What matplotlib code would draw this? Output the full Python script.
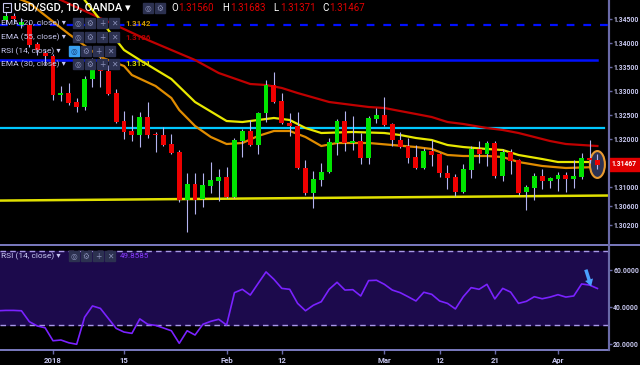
import numpy as np
import matplotlib.pyplot as plt
from matplotlib.patches import Rectangle, Ellipse

# USD/SGD daily candles, bar 0 = 2 Jan 2018 (bars -7..-1 are late Dec 2017)
bar_idx = list(range(-7, 70))

opens = [1.34729, 1.34479, 1.34563, 1.34375, 1.34375, 1.33979, 1.33792,
         1.33729, 1.32917, 1.32958, 1.32771, 1.32667, 1.33250, 1.33521, 1.33417, 1.32958, 1.32375,
         1.32167, 1.32083, 1.32458, 1.32104, 1.32083, 1.31896, 1.31729, 1.30729, 1.31063, 1.30750,
         1.31021, 1.31125, 1.31208, 1.30792, 1.31958, 1.32167, 1.31875, 1.32542, 1.33125, 1.32792,
         1.32333, 1.32271, 1.31396, 1.30875, 1.31146, 1.31313, 1.31917, 1.32375, 1.31917, 1.31958,
         1.31604, 1.32417, 1.32500, 1.32313, 1.31979, 1.31854, 1.31625, 1.31396, 1.31750, 1.31688,
         1.31292, 1.31208, 1.30896, 1.31354, 1.31792, 1.31688, 1.31917, 1.31229, 1.31729, 1.31563,
         1.30896, 1.30979, 1.31229, 1.31125, 1.31167, 1.31250, 1.31167, 1.31208, 1.31604, 1.31560]
highs = [1.34792, 1.34646, 1.34625, 1.34521, 1.34438, 1.34021, 1.33854,
         1.33771, 1.33104, 1.33167, 1.32854, 1.33313, 1.33688, 1.33708, 1.33542, 1.33042, 1.32583,
         1.32500, 1.32563, 1.32771, 1.32146, 1.32250, 1.32104, 1.31771, 1.31292, 1.31292, 1.31292,
         1.31521, 1.31375, 1.31417, 1.32021, 1.32208, 1.32396, 1.32563, 1.33229, 1.33396, 1.32958,
         1.32542, 1.32563, 1.31563, 1.31333, 1.31500, 1.32021, 1.32417, 1.32583, 1.32479, 1.32125,
         1.32479, 1.32646, 1.32875, 1.32333, 1.32146, 1.32021, 1.31875, 1.31813, 1.31979, 1.31708,
         1.31458, 1.31271, 1.31479, 1.31854, 1.31958, 1.31958, 1.31958, 1.31792, 1.31792, 1.31583,
         1.31042, 1.31292, 1.31375, 1.31208, 1.31313, 1.31313, 1.31563, 1.31708, 1.31979, 1.31683]
lows = [1.34438, 1.34396, 1.34417, 1.34313, 1.33917, 1.33750, 1.33542,
        1.32813, 1.32792, 1.32708, 1.32563, 1.32604, 1.33083, 1.33083, 1.32917, 1.32333, 1.32000,
        1.31958, 1.31833, 1.32021, 1.31729, 1.31854, 1.31688, 1.30688, 1.30063, 1.30438, 1.30583,
        1.30875, 1.30708, 1.30771, 1.30771, 1.31625, 1.31854, 1.31688, 1.32354, 1.32750, 1.32313,
        1.32063, 1.31375, 1.30833, 1.30563, 1.31021, 1.31292, 1.31667, 1.31750, 1.31771, 1.31479,
        1.31479, 1.32333, 1.32271, 1.31854, 1.31813, 1.31500, 1.31375, 1.31375, 1.31438, 1.31208,
        1.30958, 1.30813, 1.30875, 1.31188, 1.31500, 1.31438, 1.31188, 1.31125, 1.31271, 1.30833,
        1.30521, 1.30729, 1.30958, 1.30979, 1.30917, 1.30896, 1.30979, 1.31167, 1.31500, 1.31371]
closes = [1.34479, 1.34563, 1.34500, 1.34438, 1.33958, 1.33854, 1.33729,
          1.32917, 1.32958, 1.32750, 1.32667, 1.33250, 1.33542, 1.33417, 1.32938, 1.32354, 1.32146,
          1.32083, 1.32458, 1.32083, 1.32083, 1.31875, 1.31708, 1.30729, 1.31063, 1.30729, 1.31042,
          1.31146, 1.31208, 1.30792, 1.31979, 1.32167, 1.31875, 1.32542, 1.33125, 1.32771, 1.32333,
          1.32271, 1.31396, 1.30875, 1.31167, 1.31313, 1.31938, 1.32375, 1.31917, 1.31958, 1.31604,
          1.32438, 1.32500, 1.32292, 1.31979, 1.31833, 1.31604, 1.31396, 1.31750, 1.31667, 1.31292,
          1.31188, 1.30896, 1.31375, 1.31792, 1.31688, 1.31917, 1.31229, 1.31729, 1.31542, 1.30875,
          1.31000, 1.31229, 1.31125, 1.31188, 1.31250, 1.31167, 1.31229, 1.31604, 1.31563, 1.31467]

rsi = [37.8, 38.0, 38.0, 37.8, 31.9, 29.6, 28.6,
       21.6, 22.0, 20.5, 19.7, 34.3, 40.4, 39.1, 33.7, 28.3, 26.3,
       25.6, 33.4, 30.5, 29.9, 28.5, 27.0, 20.2, 27.0, 24.7, 30.5,
       32.1, 33.2, 30.1, 47.6, 49.4, 46.3, 52.6, 58.8, 54.8, 49.9,
       49.4, 41.8, 37.8, 40.8, 42.7, 49.4, 53.2, 49.0, 49.2, 45.8,
       54.1, 54.3, 52.1, 49.0, 47.6, 45.4, 43.1, 47.8, 46.7, 43.1,
       41.8, 38.8, 45.4, 50.3, 49.4, 52.1, 44.2, 49.9, 47.9, 41.8,
       42.9, 45.4, 44.3, 45.2, 46.5, 45.2, 45.8, 52.3, 51.7, 49.86]

# moving averages at a few bars
ema55_idx = [-7, 1, 12, 18, 21, 25, 27, 29, 31, 35, 38, 40, 42, 44, 46, 48, 50, 52, 55, 57,
             59, 61, 63, 65, 67, 69]
ema55 = [1.35500, 1.34896, 1.34063, 1.33646, 1.33375, 1.33146, 1.33125, 1.33063, 1.32958,
         1.32771, 1.32708, 1.32667, 1.32646, 1.32583, 1.32521, 1.32458, 1.32354, 1.32313,
         1.32229, 1.32188, 1.32125, 1.32042, 1.31958, 1.31896, 1.31875, 1.31854]
ema30_idx = [2, 4, 9, 11, 15, 18, 22, 24, 26, 28, 30, 32, 34, 38, 42, 44, 46, 48, 50, 52,
             55, 57, 59, 62, 64, 69]
ema30 = [1.35400, 1.34896, 1.33854, 1.33646, 1.33250, 1.32771, 1.32375, 1.32354, 1.32396,
         1.32438, 1.32396, 1.32229, 1.32125, 1.32146, 1.32125, 1.32083, 1.32021, 1.31979,
         1.31875, 1.31833, 1.31792, 1.31771, 1.31667, 1.31583, 1.31521, 1.31521]
ema20_idx = [-7, -3, 2, 6, 9, 10, 13, 15, 16, 18, 20, 22, 24, 26, 28, 30, 32, 34, 36, 40,
             43, 46, 48, 50, 52, 55, 57, 59, 62, 65, 69]
ema20 = [1.35104, 1.34833, 1.34188, 1.33708, 1.33521, 1.33333, 1.33104, 1.32854, 1.32604,
         1.32271, 1.32042, 1.31896, 1.31917, 1.32063, 1.32167, 1.32167, 1.32042, 1.31854,
         1.31917, 1.31917, 1.31875, 1.31833, 1.31792, 1.31667, 1.31646, 1.31646, 1.31625,
         1.31521, 1.31438, 1.31396, 1.31417]

# drawn levels
level_dashed = 1.34375
level_blue = 1.33646
level_cyan = 1.32229
trend_x = [-7, 70.5]
trend_y = [1.30717, 1.30823]

price_ticks = [1.345, 1.340, 1.335, 1.330, 1.325, 1.320, 1.310, 1.306, 1.302]
rsi_ticks = [20, 40, 60]
date_pos = [0, 9, 22, 29, 42, 49, 56, 64]
date_labels = ['2018', '15', 'Feb', '12', 'Mar', '12', '21', 'Apr']

plt.rcParams['font.family'] = ['Roboto', 'DejaVu Sans']
TXT = '#c8c8f0'
AXC = '#6a6aa8'

fig = plt.figure(figsize=(6.4, 3.65), dpi=100, facecolor='black')
W, H = 640.0, 365.0

# price pane
ax = fig.add_axes([0, (H - 240) / H, 609 / W, 240 / H], facecolor='black')
x = np.array(bar_idx)
o, c = np.array(opens), np.array(closes)
up = c >= o
cols = np.where(up, '#00e400', '#ee0000')
ax.vlines(x, lows, highs, color='#b4b4f0', lw=0.8, zorder=4)
body = np.maximum(np.abs(c - o), 0.00008)
ax.bar(x, body, bottom=np.minimum(o, c), width=0.62, color=cols, zorder=4.5)

ax.plot(ema55_idx, ema55, color='#c00000', lw=1.6, zorder=3)
ax.plot(ema30_idx, ema30, color='#e8e800', lw=1.6, zorder=3)
ax.plot(ema20_idx, ema20, color='#e08c00', lw=1.6, zorder=3)

ax.axhline(level_dashed, color='#0010ff', lw=1.6, ls=(0, (3.5, 4)), zorder=2)
ax.plot([-7, 69], [level_blue, level_blue], color='#0010ff', lw=1.8, zorder=2)
ax.plot([-7, 69.8], [level_cyan, level_cyan], color='#00c8ff', lw=1.6, zorder=2)
ax.plot(trend_x, trend_y, color='#e0e000', lw=1.8, zorder=2)

ax.add_patch(Ellipse((69, 1.31469), 1.9, 0.0056, facecolor='#2c3252', edgecolor='#e89a30',
                     lw=1.5, zorder=3.5))

ax.set_xlim(-6.72, 70.47)
ax.set_ylim(1.29896, 1.34896)
ax.yaxis.tick_right()
ax.set_yticks(price_ticks)
ax.set_yticklabels(['%.5f' % p for p in price_ticks])
ax.tick_params(axis='y', colors=TXT, labelsize=4.9, length=2, width=1, pad=1, color=AXC)
ax.set_xticks([])
for s in ['top', 'left', 'bottom']:
    ax.spines[s].set_visible(False)
ax.spines['right'].set_color(AXC)
ax.spines['right'].set_linewidth(1.5)
for lab in ax.get_yticklabels():
    lab.set_fontweight('bold')

# RSI pane
rx = fig.add_axes([0, (H - 350) / H, 609 / W, 105 / H], facecolor='black')
rx.axhspan(30, 70, color='#1c0a4c', zorder=1)
rx.axhline(70, color='#a898e8', lw=1, ls=(0, (4, 3)), zorder=2)
rx.axhline(30, color='#a898e8', lw=1, ls=(0, (4, 3)), zorder=2)
rx.plot(bar_idx, rsi, color='#7a22ff', lw=1.2, zorder=3)
rx.set_xlim(-6.72, 70.47)
rx.set_ylim(16.6, 73.35)
rx.yaxis.tick_right()
rx.set_yticks(rsi_ticks)
rx.set_yticklabels(['%.4f' % v for v in rsi_ticks])
rx.set_xticks(date_pos)
rx.set_xticklabels(date_labels)
rx.tick_params(axis='y', colors=TXT, labelsize=4.9, length=2, width=1, pad=1, color=AXC)
rx.tick_params(axis='x', colors=TXT, labelsize=5.6, length=3, width=1, pad=2, color=AXC)
for lab in rx.get_yticklabels() + rx.get_xticklabels():
    lab.set_fontweight('bold')
for s in ['top', 'left']:
    rx.spines[s].set_visible(False)
rx.spines['right'].set_color(AXC)
rx.spines['right'].set_linewidth(1.5)
rx.spines['bottom'].set_color('#9090e0')
rx.spines['bottom'].set_linewidth(1.2)

# overlay in pixel coordinates for the TradingView header and legends
ov = fig.add_axes([0, 0, 1, 1], zorder=10)
ov.set_xlim(0, W)
ov.set_ylim(H, 0)
ov.axis('off')

ov.plot([0, W], [245, 245], color='#9090e0', lw=1.2)
ov.plot([609, 609], [0, 350], color=AXC, lw=1.5)

# last price tag
ov.add_patch(Rectangle((609, 158), 31, 13, color='#e00000'))
ov.text(612, 164.5, '1.31467', color='white', fontsize=4.9, fontweight='bold', va='center')


def icon(x0, y0, glyph, fc='#2c3150', gc='#8a90b8'):
    ov.add_patch(Rectangle((x0, y0 - 5), 10, 10, color=fc))
    ov.text(x0 + 5, y0 + 0.3, glyph, color=gc, fontsize=5.5, ha='center', va='center',
            family='DejaVu Sans')


ov.add_patch(Rectangle((2.5, 3), 8, 9, fill=False, edgecolor='#c8c8f0', lw=0.8))
ov.text(6.5, 7.3, '−', color='#e0e0ff', fontsize=6, ha='center', va='center')
ov.text(14, 8, 'USD/SGD, 1D, OANDA ▾', color='white', fontsize=8, fontweight='medium',
        va='center')
icon(143, 8, '◎')
icon(155, 8, '⚙')
for lx, lt, vx, vt in [(171, 'O', 178, '1.31560'), (222, 'H', 230, '1.31683'),
                       (273, 'L', 280, '1.31371'), (322, 'C', 329, '1.31467')]:
    ov.text(lx, 8, lt, color='white', fontsize=7, va='center')
    ov.text(vx, 8, vt, color='#e00000', fontsize=7, va='center')

rows = [(23, 'EMA (20, close) ▾', '1.3142', '#d09a00'),
        (37, 'EMA (55, close) ▾', '1.3186', '#b00000'),
        (51, 'RSI (14, close) ▾', None, None),
        (64, 'EMA (30, close) ▾', '1.3151', '#d8d800')]
for ry, label, val, vc in rows:
    ov.text(1, ry, label, color=TXT, fontsize=6, va='center')
    x0 = 69 if val is None else 73
    for k, g in enumerate(['◎', '⚙', '+', '✕']):
        if val is None and k == 0:
            icon(x0, ry, g, fc='#3aa0f0', gc='#1a3a70')
        else:
            icon(x0 + 12 * k, ry, g)
    if val is not None:
        ov.text(125, ry, val, color=vc, fontsize=5.8, fontweight='bold', va='center')

ov.text(1, 256, 'RSI (14, close) ▾', color=TXT, fontsize=6, va='center')
for k, g in enumerate(['◎', '⚙', '+', '✕']):
    icon(69 + 12 * k, 256, g)
ov.text(120, 256, '49.8585', color='#8a3cff', fontsize=5.8, va='center')

ov.annotate('', xy=(592, 289), xytext=(585, 267),
            arrowprops=dict(arrowstyle='simple,head_width=0.6,tail_width=0.25',
                            color='#4aa0ff', lw=0))

fig.savefig('out.png', dpi=100, facecolor='black')
